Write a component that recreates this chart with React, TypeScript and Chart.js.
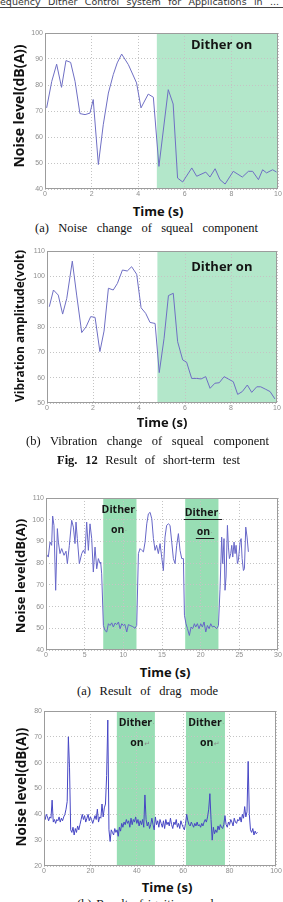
import React, { useEffect, useRef } from 'react';
import { Chart, registerables } from 'chart.js';

Chart.register(...registerables);

// ---- Fig. 12(a): squeal noise, short-term test ----
const squealTimeS = [
  0.07, 0.29, 0.5, 0.71, 0.9, 1.1, 1.29, 1.5, 1.72, 1.93,
  2.07, 2.29, 2.5, 2.72, 2.93, 3.1, 3.29, 3.58, 3.93, 4.12,
  4.43, 4.65, 4.89, 5.29, 5.5, 5.69, 5.91, 6.3, 6.51, 6.9,
  7.08, 7.3, 7.51, 7.73, 8.08, 8.47, 8.73, 8.91, 9.16, 9.34,
  9.51, 9.77, 9.94,
];
const squealNoiseDb = [
  71.2, 81.4, 88, 79.1, 89.4, 88.7, 81.4, 69, 68.6, 69.2,
  74.4, 49.4, 64.7, 76.9, 84, 88.5, 91.9, 87.8, 80.8, 71.2,
  76.5, 75.3, 48.7, 78.2, 72.7, 44.2, 42.7, 48.1, 44.9, 46.5,
  44.6, 47.8, 43.6, 41.9, 46.8, 44.6, 46.8, 46.8, 43.6, 47.4,
  46.2, 47.4, 46.5,
];
const squealDither: [number, number][] = [[4.8, 10]];

// ---- Fig. 12(b): vibration amplitude, short-term test ----
const vibTimeS = [
  0.1, 0.28, 0.49, 0.68, 0.86, 1.1, 1.29, 1.51, 1.7, 1.9,
  2.09, 2.3, 2.48, 2.67, 2.88, 3.06, 3.28, 3.49, 3.68, 3.9,
  4.09, 4.29, 4.48, 4.7, 4.88, 5.09, 5.28, 5.49, 5.68, 5.9,
  6.07, 6.29, 6.51, 6.7, 6.9, 7.09, 7.3, 7.49, 7.7, 7.88,
  8.1, 8.29, 8.49, 8.71, 8.9, 9.12, 9.29, 9.49, 9.7, 9.91,
];
const vibAmplitudeV = [
  88, 94.6, 92.6, 85.1, 91.3, 106, 92.6, 77.8, 80.1, 84.1,
  83.8, 70.3, 78.4, 95.3, 94.6, 97.2, 102.5, 102.1, 103.8, 100.8,
  87.6, 85.4, 81.8, 81.4, 62, 75.5, 92.4, 93.3, 74.2, 67,
  66.1, 59.7, 59.7, 59.5, 60.4, 55.8, 57.8, 58, 60.4, 59.5,
  58.4, 53.4, 54.5, 57.1, 54.2, 56.4, 56.4, 55.5, 54.5, 51.6,
];
const vibDither: [number, number][] = [[4.8, 10]];

// ---- Fig. 13(a): drag mode ----
const dragTimeS = [
  0, 0.3, 0.52, 0.73, 0.86, 1.03, 1.25, 1.47, 1.6, 1.81,
  2.03, 2.33, 2.59, 2.76, 3.02, 3.32, 3.54, 3.75, 3.88, 4.05,
  4.31, 4.62, 4.83, 5.04, 5.26, 5.48, 5.69, 5.91, 6.12, 6.34,
  6.56, 6.77, 6.99, 7.07, 7.2, 7.42, 7.63, 7.85, 8.07, 8.28,
  8.5, 8.71, 8.93, 9.15, 9.37, 9.58, 9.8, 10.0, 10.2, 10.44,
  10.65, 10.87, 11.21, 11.51, 11.73, 11.95, 12.16, 12.38, 12.6, 12.81,
  13.03, 13.24, 13.46, 13.68, 13.89, 14.1, 14.3, 14.53, 14.75, 14.96,
  15.18, 15.39, 15.6, 15.83, 16.04, 16.26, 16.47, 16.69, 16.9, 17.12,
  17.33, 17.55, 17.77, 17.9, 18.1, 18.3, 18.54, 18.76, 18.97, 19.19,
  19.36, 19.58, 19.79, 20.01, 20.22, 20.44, 20.66, 20.87, 21.09, 21.3,
  21.52, 21.73, 22.08, 22.3, 22.5, 22.72, 22.85, 23.02, 23.15, 23.28,
  23.46, 23.59, 23.72, 23.89, 24.02, 24.15, 24.32, 24.45, 24.58, 24.75,
  24.88, 25.1, 25.23, 25.36, 25.53, 25.66, 25.83, 26.0, 26.17,
];
const dragNoiseDb = [
  84.4, 82.8, 89.7, 88.2, 101.7, 97.4, 67.5, 95.9, 89.7, 84.4,
  86.7, 83.6, 85.5, 79.8, 88.2, 99.7, 96.6, 89, 98.9, 91.3,
  79.8, 84.4, 85.9, 84.4, 98.9, 85.9, 98.1, 91.3, 75.9, 87.4,
  77.4, 82.1, 79.8, 80.5, 75.1, 51.3, 49, 48.3, 52.1, 51.3,
  52.5, 50.6, 52.4, 51.7, 52.9, 49.8, 52.1, 51.3, 51.8, 48.3,
  51.7, 51.3, 50.8, 50, 51.3, 84.4, 86.7, 85.9, 85.2, 89.7,
  98.1, 102.7, 103.4, 100.4, 91.3, 85.9, 88.2, 84.4, 89, 82.8,
  76.6, 92, 97.4, 98.1, 97.4, 89.7, 82.1, 79.8, 88.2, 93.6,
  85.9, 82.1, 82.1, 56, 52.1, 49.8, 46.7, 50.6, 49.8, 52.1,
  50.6, 52.1, 49.8, 52.1, 50.6, 52.9, 48.3, 51.3, 49.8, 52.1,
  50.6, 51, 49.8, 51.3, 68, 92, 79.8, 91.3, 67.5, 73.6,
  97.4, 87.4, 82.1, 84.4, 88.2, 82.8, 89.7, 84.4, 88.2, 79.8,
  81.3, 89.7, 91.3, 82.1, 76.6, 77.4, 96.6, 92, 85.2,
];
const dragDither: [number, number][] = [[7.4, 11.7], [18.0, 22.3]];

// ---- Fig. 13(b): ignition mode, logged every 0.5 s ----
const IGNITION_SAMPLE_S = 0.5;
const ignitionNoiseDb = [
  39.5, 38, 40, 39, 37.5, 39, 38.5, 45.5, 37, 38,
  36.5, 38, 37.5, 39, 37, 38.5, 37.5, 39, 40, 42,
  45, 70, 58, 34, 33, 35, 32, 34.5, 33, 35.5,
  34, 36, 38, 40, 38, 39.5, 37, 38.5, 40, 37.5,
  39, 38, 36.5, 38, 39.5, 38, 42, 37, 39, 38.5,
  44, 39, 42.5, 44, 55, 76.5, 34, 29.5, 34, 33,
  32, 34.5, 33, 34, 31.5, 35, 33.5, 36.5, 35, 37,
  36, 38, 36.5, 37.5, 35, 38.5, 36, 38, 37, 39,
  36.5, 38, 35.5, 37.5, 36, 38, 35, 47.5, 38, 35.5,
  37, 34.5, 36, 38.5, 36, 34, 39, 36, 37.5, 35,
  38, 36.5, 35, 37.5, 34.5, 38, 36, 37, 35.5, 38.5,
  36, 34.5, 37, 36, 38, 35, 36.5, 34.5, 37.5, 36,
  35, 34, 36.5, 40, 37.5, 36, 35.5, 37, 36, 35,
  36.5, 35.5, 37, 35.5, 36, 35, 36.5, 35.5, 37, 38,
  37, 39, 42, 48, 38, 30, 35, 32.5, 34, 33,
  35.5, 34, 36, 35, 34.5, 36, 39.5, 36, 35, 37,
  36, 38, 37, 35.5, 38.5, 37, 36.5, 38, 37.5, 39,
  37, 40, 38.5, 43, 39, 41, 60.5, 40, 34, 33,
  34.5, 32, 33.5, 32.5, 33,
];
const ignitionTimeS = ignitionNoiseDb.map((_, i) => i * IGNITION_SAMPLE_S);
const ignitionDither: [number, number][] = [[31.4, 47.8], [61.2, 78.0]];

const SANS = '"Open Sans", "DejaVu Sans", sans-serif';
const SERIF = '"Liberation Serif", "DejaVu Serif", serif';

type BandLabel = { text: string; x: number; y: number; underline?: boolean; mark?: string };

type PanelSpec = {
  left: number; top: number; width: number; height: number;
  axisW: number; axisH: number; padTop: number; padRight: number;
  times: number[]; values: number[];
  xMin: number; xMax: number; xStep: number;
  yMin: number; yMax: number; yStep: number;
  lineColor: string; bandColor: string;
  bands: [number, number][];
  labels: BandLabel[];
  labelFont: string;
};

const ditherPlugin = {
  id: 'dither',
  beforeDraw(chart: any, _args: any, opts: any) {
    const { ctx, chartArea: a, scales } = chart;
    const x = scales.x;
    ctx.save();
    ctx.fillStyle = opts.color;
    for (const [s, e] of opts.bands as [number, number][]) {
      const x0 = x.getPixelForValue(s);
      const x1 = x.getPixelForValue(e);
      ctx.fillRect(x0, a.top, x1 - x0, a.bottom - a.top);
    }
    ctx.restore();
  },
  afterDraw(chart: any, _args: any, opts: any) {
    const { ctx, chartArea: a, scales } = chart;
    ctx.save();
    // plot frame
    ctx.strokeStyle = '#9c9c9c';
    ctx.lineWidth = 1;
    ctx.strokeRect(Math.round(a.left) + 0.5, Math.round(a.top) + 0.5,
      Math.round(a.right - a.left) - 1, Math.round(a.bottom - a.top) - 1);
    // band annotations
    ctx.font = opts.font;
    ctx.textBaseline = 'middle';
    for (const l of opts.labels as BandLabel[]) {
      const px = scales.x.getPixelForValue(l.x);
      const py = scales.y.getPixelForValue(l.y);
      const w = ctx.measureText(l.text).width;
      ctx.fillStyle = '#151515';
      ctx.textAlign = 'center';
      ctx.fillText(l.text, px, py);
      if (l.mark) {
        ctx.save();
        ctx.font = '7px ' + SANS;
        ctx.fillStyle = '#8a8a8a';
        ctx.textAlign = 'left';
        ctx.fillText(l.mark, px + w / 2 + 0.5, py + 1);
        ctx.restore();
      }
      if (l.underline) {
        ctx.strokeStyle = '#222';
        ctx.lineWidth = 1;
        ctx.beginPath();
        ctx.moveTo(px - w / 2 - 1, Math.round(py + 6) + 0.5);
        ctx.lineTo(px + w / 2 + 4, Math.round(py + 6) + 0.5);
        ctx.stroke();
      }
    }
    ctx.restore();
  },
};

function Panel({ spec }: { spec: PanelSpec }) {
  const ref = useRef<HTMLCanvasElement>(null);
  useEffect(() => {
    if (!ref.current) return;
    const s = spec;
    const tickFont = { size: 7, family: '"Liberation Sans", Arial, sans-serif' };
    const chart = new Chart(ref.current, {
      type: 'line',
      data: {
        datasets: [{
          data: s.times.map((t, i) => ({ x: t, y: s.values[i] })),
          borderColor: s.lineColor,
          borderWidth: 1,
          pointRadius: 0,
          tension: 0,
          fill: false,
        }],
      },
      options: {
        responsive: false,
        animation: false,
        devicePixelRatio: 1,
        layout: { padding: { top: s.padTop, right: s.padRight, left: 0, bottom: 0 } },
        plugins: {
          legend: { display: false },
          tooltip: { enabled: false },
          dither: { color: s.bandColor, bands: s.bands, labels: s.labels, font: s.labelFont },
        } as any,
        scales: {
          x: {
            type: 'linear',
            min: s.xMin, max: s.xMax,
            ticks: { stepSize: s.xStep, padding: 1, color: '#8e8e8e', font: tickFont, maxRotation: 0, autoSkip: false },
            grid: { color: '#c4c4c4', drawTicks: false, lineWidth: 1 },
            border: { display: false, dash: [1, 2] },
            afterFit(scale: any) { scale.height = s.axisH; scale.paddingLeft = 0; scale.paddingRight = 0; },
          },
          y: {
            type: 'linear',
            min: s.yMin, max: s.yMax,
            ticks: { stepSize: s.yStep, padding: 2, color: '#8e8e8e', font: tickFont, autoSkip: false },
            grid: { color: '#c4c4c4', drawTicks: false, lineWidth: 1 },
            border: { display: false, dash: [1, 2] },
            afterFit(scale: any) { scale.width = s.axisW; scale.paddingTop = 0; scale.paddingBottom = 0; },
          },
        },
      },
      plugins: [ditherPlugin],
    } as any);
    return () => chart.destroy();
  }, [spec]);
  return (
    <canvas
      ref={ref}
      width={spec.width}
      height={spec.height}
      style={{ position: 'absolute', left: spec.left, top: spec.top, width: spec.width, height: spec.height }}
    />
  );
}

const panels: PanelSpec[] = [
  {
    left: 23, top: 28, width: 261, height: 171, axisW: 22, axisH: 10, padTop: 5, padRight: 6,
    times: squealTimeS, values: squealNoiseDb,
    xMin: 0, xMax: 10, xStep: 2, yMin: 40, yMax: 100, yStep: 10,
    lineColor: '#6f6fc4', bandColor: '#b3e7ca', bands: squealDither,
    labels: [{ text: 'Dither on', x: 7.58, y: 95.3 }],
    labelFont: 'bold 13px ' + SANS,
  },
  {
    left: 25, top: 246, width: 258, height: 167, axisW: 22, axisH: 10, padTop: 5, padRight: 6,
    times: vibTimeS, values: vibAmplitudeV,
    xMin: 0, xMax: 10, xStep: 2, yMin: 50, yMax: 110, yStep: 10,
    lineColor: '#6f6fc4', bandColor: '#b3e7ca', bands: vibDither,
    labels: [{ text: 'Dither on', x: 7.6, y: 103.4 }],
    labelFont: 'bold 13px ' + SANS,
  },
  {
    left: 24, top: 493, width: 260, height: 167, axisW: 22, axisH: 10, padTop: 5, padRight: 6,
    times: dragTimeS, values: dragNoiseDb,
    xMin: 0, xMax: 30, xStep: 5, yMin: 40, yMax: 110, yStep: 10,
    lineColor: '#6767c8', bandColor: '#98deb4', bands: dragDither,
    labels: [
      { text: 'Dither', x: 9.35, y: 104.3, mark: '·' },
      { text: 'on', x: 9.27, y: 95.1, mark: '·' },
      { text: 'Dither', x: 20.1, y: 103.1, mark: '·', underline: true },
      { text: 'on', x: 20.37, y: 94.3, mark: '·', underline: true },
    ],
    labelFont: 'bold 10.5px ' + SANS,
  },
  {
    left: 22, top: 706, width: 260, height: 170, axisW: 22, axisH: 10, padTop: 5, padRight: 6,
    times: ignitionTimeS, values: ignitionNoiseDb,
    xMin: 0, xMax: 100, xStep: 20, yMin: 20, yMax: 80, yStep: 10,
    lineColor: '#4646c4', bandColor: '#98deb4', bands: ignitionDither,
    labels: [
      { text: 'Dither', x: 39.4, y: 75.2, mark: '·' },
      { text: 'on', x: 40.1, y: 67.5, mark: '↵' },
      { text: 'Dither', x: 69.4, y: 75.4, mark: '·' },
      { text: 'on', x: 70.1, y: 67.6, mark: '↵' },
    ],
    labelFont: 'bold 10.5px ' + SANS,
  },
];

function Centered({ x, y, size, children, rotate, weight = 700, family = SANS }:
  { x: number; y: number; size: number; children: React.ReactNode; rotate?: boolean; weight?: number; family?: string }) {
  return (
    <div style={{
      position: 'absolute', left: x, top: y, whiteSpace: 'nowrap',
      fontFamily: family, fontSize: size, fontWeight: weight, lineHeight: 1, color: '#111',
      transform: `translate(-50%, -50%)${rotate ? ' rotate(-90deg)' : ''}`,
    }}>{children}</div>
  );
}

function Caption({ left, right, y, size = 12.5, children }:
  { left: number; right: number; y: number; size?: number; children: React.ReactNode }) {
  return (
    <div style={{
      position: 'absolute', left, width: right - left, top: y - size / 2, height: size,
      fontFamily: SERIF, fontSize: size, lineHeight: `${size}px`, color: '#111',
      textAlign: 'justify', textAlignLast: 'justify', whiteSpace: 'nowrap',
    } as React.CSSProperties}>{children}</div>
  );
}

export default function App() {
  return (
    <div style={{ position: 'absolute', left: 0, top: 0, width: 283, height: 902, overflow: 'hidden', background: '#fff' }}>
      <div style={{
        position: 'absolute', left: 0, top: -3, width: 279, height: 10,
        fontFamily: '"DejaVu Sans", sans-serif', fontSize: 9.5, lineHeight: '10px', color: '#333',
        textAlign: 'justify', textAlignLast: 'justify', whiteSpace: 'nowrap',
      } as React.CSSProperties}>equency Dither Control system for Applications in ...</div>
      <div style={{ position: 'absolute', left: 0, top: 7, width: 283, height: 1, background: '#444' }} />

      {panels.map((p, i) => <Panel key={i} spec={p} />)}

      <Centered x={18.5} y={105.5} size={14} rotate>Noise level(dB(A))</Centered>
      <Centered x={158} y={211} size={13}>Time (s)</Centered>
      <Caption left={35} right={258} y={228.5}>(a) Noise change of squeal component</Caption>

      <Centered x={19.5} y={326} size={12} rotate>Vibration amplitude(volt)</Centered>
      <Centered x={162} y={422} size={13}>Time (s)</Centered>
      <Caption left={26} right={269} y={441.5}>(b) Vibration change of squeal component</Caption>
      <Caption left={57} right={240} y={460.5}><b>Fig. 12</b> Result of short-term test</Caption>

      <Centered x={20} y={576} size={13} rotate>Noise level(dB(A))</Centered>
      <Centered x={165} y={672} size={13}>Time (s)</Centered>
      <Caption left={77} right={218} y={691}>(a) Result of drag mode</Caption>

      <Centered x={21.5} y={787} size={13.5} rotate>Noise level(dB(A))</Centered>
      <Centered x={167} y={887} size={13}>Time (s)</Centered>
      <Caption left={77} right={219} y={904}>(b) Result of ignition mode</Caption>
    </div>
  );
}
